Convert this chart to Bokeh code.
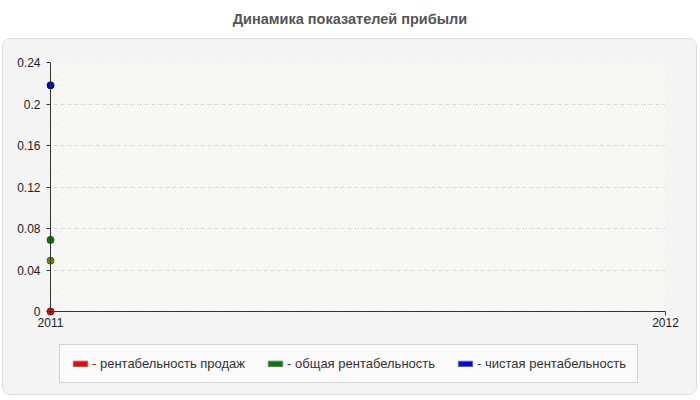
from bokeh.embed import file_html
from bokeh.resources import INLINE
from bokeh.plotting import figure
from bokeh.layouts import column
from bokeh.models import (Div, Range1d, FixedTicker, CustomJSTickFormatter, Span,
                          BoxAnnotation, Legend, LegendItem, ColumnDataSource)

# data
years = [2011]
x_ticks = [2011, 2012]
y_ticks = [0, 0.04, 0.08, 0.12, 0.16, 0.2, 0.24]
sales_margin = [0.0]       # рентабельность продаж
unlabeled = [0.049]        # olive dot, no legend entry
total_margin = [0.069]     # общая рентабельность
net_margin = [0.218]       # чистая рентабельность

title = "Динамика показателей прибыли"
labels = ["- рентабельность продаж", "- общая рентабельность", "- чистая рентабельность"]
legend_colors = ["#ff0000", "#008000", "#0000ff"]

FONT = "Liberation Sans"
PANEL = "#f4f4f4"

header = Div(
    text=(f"<div style='width:697px;box-sizing:border-box;padding-left:3px;padding-top:11px;"
          f"text-align:center;font:bold 14.5px {FONT};color:#555'>{title}</div>"),
    width=697, height=38, margin=(0, 0, 0, 0))

# frame extends a few px past 2011 / 0 so dots sitting on the axes are not clipped
p = figure(width=693, height=296, output_backend="svg", toolbar_location=None,
           x_range=Range1d(2011 - 4 / 615, 2012), y_range=Range1d(-0.24 * 4 / 249, 0.24),
           min_border_left=43, min_border_right=31, min_border_top=23, min_border_bottom=20,
           background_fill_color=PANEL, border_fill_color=PANEL,
           outline_line_color=None, margin=(0, 0, 0, 0))

plot_bg = BoxAnnotation(left=2011, bottom=0, fill_color="#fdfdf8", fill_alpha=1,
                        line_color="#dddddd", hatch_pattern="/", hatch_color="#ececec",
                        hatch_scale=6, hatch_weight=1, level="image")
p.add_layout(plot_bg)

p.xgrid.grid_line_color = None
p.ygrid.ticker = FixedTicker(ticks=y_ticks)
p.ygrid.grid_line_color = "#d8d8d8"
p.ygrid.grid_line_dash = "4 3"

for ax in (p.xaxis[0], p.yaxis[0]):
    ax.axis_line_color = None
    ax.major_tick_out = 0
    ax.major_tick_in = 4
    ax.minor_tick_line_color = None
    ax.major_tick_line_color = "#333"
    ax.major_label_text_font = FONT
    ax.major_label_text_font_size = "12px"
    ax.major_label_text_color = "#222"
    ax.formatter = CustomJSTickFormatter(code="return String(tick)")

p.xaxis.ticker = FixedTicker(ticks=x_ticks)
p.xaxis.major_label_standoff = 2
p.yaxis.ticker = FixedTicker(ticks=y_ticks)
p.yaxis.major_label_standoff = 6

p.add_layout(Span(location=2011, dimension="height", line_color="#333", line_width=1))
p.add_layout(Span(location=0, dimension="width", line_color="#333", line_width=1))

series = [
    (unlabeled, "#808000", "#5a5a00"),
    (total_margin, "#008000", "#005a00"),
    (net_margin, "#0000ff", "#0000a0"),
    (sales_margin, "#ff0000", "#b00000"),
]
for vals, fc, lc in series:
    src = ColumnDataSource(dict(x=years, y=vals))
    p.scatter(x="x", y="y", source=src, size=7, fill_color=fc, line_color=lc, line_width=1)

# legend strip as its own small figure under the chart (frames are aligned by the column)
lf = figure(width=693, height=59, output_backend="svg", toolbar_location=None,
            x_range=Range1d(0, 1), y_range=Range1d(0, 1), x_axis_type=None, y_axis_type=None,
            min_border=0, background_fill_color=PANEL, border_fill_color=PANEL,
            outline_line_color=None, margin=(0, 0, 0, 0))
lf.grid.visible = False

# swatch renderers only feed the legend; their quads lie outside the visible range
swatches = []
for fc in legend_colors:
    swatches.append(lf.quad(left=[-2], right=[-1], top=[-1], bottom=[-2],
                            fill_color=fc, line_color="#777777", line_width=1))

legend = Legend(items=[LegendItem(label=t, renderers=[r]) for t, r in zip(labels, swatches)],
                orientation="horizontal", location=(13, 11),
                glyph_width=18, glyph_height=7, label_standoff=3, spacing=21, padding=11,
                label_text_font=FONT, label_text_font_size="13px", label_text_color="#333",
                border_line_color="#aaaaaa", background_fill_color="#fafafa",
                background_fill_alpha=1, margin=0)
lf.add_layout(legend)

panel = column(p, lf, margin=(0, 0, 0, 2),
               styles={"border": "1px solid #ddd", "border-radius": "8px",
                       "overflow": "hidden", "background-color": PANEL})

layout = column(header, panel, margin=(0, 0, 0, 0))
open("out.html", "w").write(file_html(layout, INLINE))
